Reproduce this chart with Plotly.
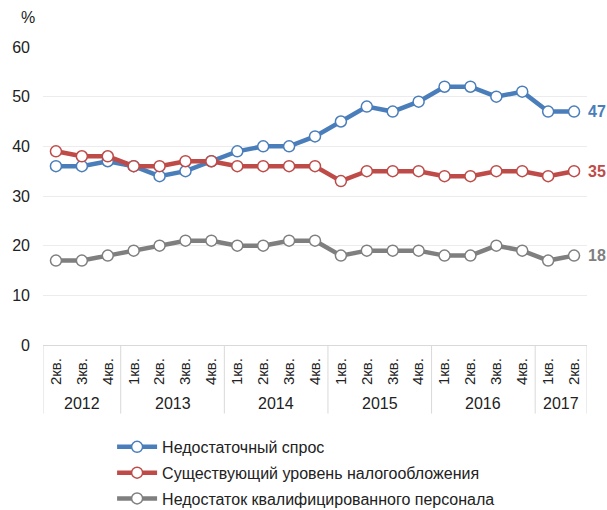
import plotly.graph_objects as go

# quarters from 2кв. 2012 to 2кв. 2017
years = ["2012"] * 3 + ["2013"] * 4 + ["2014"] * 4 + ["2015"] * 4 + ["2016"] * 4 + ["2017"] * 2
quarters = ["2кв.", "3кв.", "4кв.",
            "1кв.", "2кв.", "3кв.", "4кв.",
            "1кв.", "2кв.", "3кв.", "4кв.",
            "1кв.", "2кв.", "3кв.", "4кв.",
            "1кв.", "2кв.", "3кв.", "4кв.",
            "1кв.", "2кв."]

demand = [36, 36, 37, 36, 34, 35, 37, 39, 40, 40, 42, 45, 48, 47, 49, 52, 52, 50, 51, 47, 47]
taxes = [39, 38, 38, 36, 36, 37, 37, 36, 36, 36, 36, 33, 35, 35, 35, 34, 34, 35, 35, 34, 35]
staff = [17, 17, 18, 19, 20, 21, 21, 20, 20, 21, 21, 18, 19, 19, 19, 18, 18, 20, 19, 17, 18]

names = ["Недостаточный спрос",
         "Существующий уровень налогообложения",
         "Недостаток квалифицированного персонала"]
colors = ["#4a7ebb", "#be4b48", "#7f7f7f"]

FONT = "Arial, Liberation Sans, sans-serif"
pos = list(range(len(quarters)))

fig = go.Figure()
for i, (name, vals, c) in enumerate(zip(names, [demand, taxes, staff], colors)):
    fig.add_trace(go.Scatter(
        x=pos, y=vals, name=name, legendgroup=str(i),
        mode="lines+markers",
        line=dict(color=c, width=4.5),
        marker=dict(size=11, color="white", line=dict(color=c, width=1.5)),
    ))
    # value label at the last point
    fig.add_annotation(
        x=pos[-1], y=vals[-1], text="<b>%d</b>" % vals[-1],
        showarrow=False, xanchor="left", xshift=12,
        font=dict(size=16, color=c, family=FONT),
    )

# year row and group dividers under the quarter labels
groups = []
for i, y in enumerate(years):
    if not groups or groups[-1][0] != y:
        groups.append([y, i, i])
    else:
        groups[-1][2] = i
for y, a, b in groups:
    fig.add_annotation(x=(a + b) / 2, y=-0.195, xref="x", yref="paper", text=y,
                       showarrow=False, yanchor="middle",
                       font=dict(size=16, color="#222", family=FONT))
    fig.add_shape(type="line", x0=a - 0.5, x1=a - 0.5, y0=0, y1=-0.23,
                  xref="x", yref="paper", line=dict(color="#d9d9d9", width=1))
fig.add_shape(type="line", x0=pos[-1] + 0.5, x1=pos[-1] + 0.5, y0=0, y1=-0.23,
              xref="x", yref="paper", line=dict(color="#d9d9d9", width=1))

fig.add_annotation(x=0, y=1, xref="paper", yref="paper", text="%",
                   showarrow=False, xanchor="left", yanchor="middle",
                   xshift=-24, yshift=30, font=dict(size=16, color="#222", family=FONT))

fig.update_xaxes(
    range=[-0.5, pos[-1] + 0.5], tickmode="array", tickvals=pos, ticktext=quarters,
    tickangle=-90, tickfont=dict(size=15, color="#222", family=FONT),
    showgrid=False, zeroline=False, showline=True, linecolor="#d9d9d9", ticks="",
    ticklabelstandoff=6, automargin=False,
)
fig.update_yaxes(
    range=[0, 60], dtick=10, showgrid=True, gridcolor="#ececec",
    zeroline=False, tickfont=dict(size=16, color="#222", family=FONT),
    ticks="", ticklabelstandoff=12, automargin=False,
)

fig.update_layout(
    width=607, height=510,
    margin=dict(l=43, r=20, t=47, b=165, autoexpand=False),
    plot_bgcolor="white", paper_bgcolor="white",
    font=dict(family=FONT, color="#222"),
    showlegend=True,
    legend=dict(x=0.127, y=-0.285, xanchor="left", yanchor="top",
                font=dict(size=16, color="#222", family=FONT), tracegroupgap=2,
                itemwidth=40),
)

# drop the default page margin so the figure fills the window
fig.write_html("out.html", config={"displayModeBar": False},
               post_script="document.body.style.margin='0';")
